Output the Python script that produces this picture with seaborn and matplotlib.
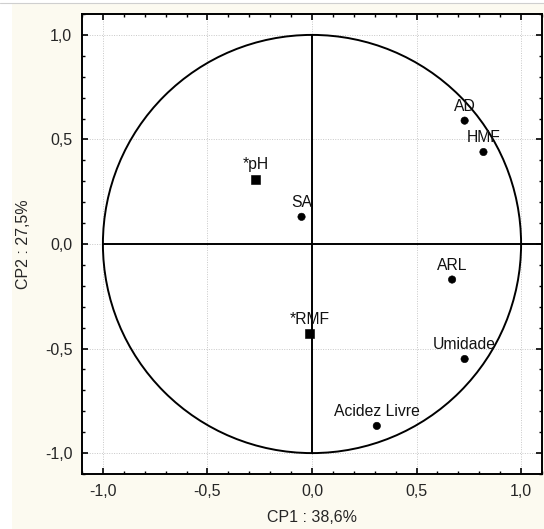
import numpy as np
import pandas as pd
import matplotlib
matplotlib.use("Agg")
import matplotlib.pyplot as plt
import seaborn as sns
from matplotlib.patches import Circle, Rectangle
from matplotlib.ticker import MultipleLocator

variables = ["*pH", "SA", "AD", "HMF", "ARL", "*RMF", "Umidade", "Acidez Livre"]
cp1 = [-0.27, -0.05, 0.73, 0.82, 0.67, -0.01, 0.73, 0.31]
cp2 = [0.31, 0.13, 0.59, 0.44, -0.17, -0.43, -0.55, -0.87]
tipo = ["quadrado", "circulo", "circulo", "circulo", "circulo", "quadrado", "circulo", "circulo"]
tick_vals = [-1.0, -0.5, 0.0, 0.5, 1.0]
tick_labels = ["-1,0", "-0,5", "0,0", "0,5", "1,0"]
xlabel = "CP1 : 38,6%"
ylabel = "CP2 : 27,5%"

df = pd.DataFrame({"var": variables, "CP1": cp1, "CP2": cp2, "tipo": tipo})

sns.set_theme(style="white")
plt.rcParams["font.family"] = ["Liberation Sans", "DejaVu Sans"]

bg = "#fcfaf0"
fig = plt.figure(figsize=(5.44, 5.29), dpi=100, facecolor=bg)
# white margins at top/left like the reference
fig.patches.append(Rectangle((0, 1 - 3 / 529), 1, 3 / 529, transform=fig.transFigure,
                             facecolor="white", edgecolor="none", zorder=-1))
fig.patches.append(Rectangle((0, 0), 12 / 544, 1, transform=fig.transFigure,
                             facecolor="white", edgecolor="none", zorder=-1))
fig.add_artist(plt.Line2D([0, 1], [1 - 3 / 529, 1 - 3 / 529], transform=fig.transFigure,
                          color="#cfcfcf", lw=0.8))

ax = fig.add_axes([82 / 544, 55 / 529, 460 / 544, 460 / 529])
ax.set_facecolor("white")

ax.set_xlim(-1.1, 1.1)
ax.set_ylim(-1.1, 1.1)

# grid
for v in tick_vals:
    ax.axvline(v, color="#c8c8c8", lw=0.7, ls=(0, (1, 1.5)), zorder=0)
    ax.axhline(v, color="#c8c8c8", lw=0.7, ls=(0, (1, 1.5)), zorder=0)

# unit circle and axes lines
ax.add_patch(Circle((0, 0), 1.0, fill=False, edgecolor="black", lw=1.4, zorder=2))
ax.plot([0, 0], [-1, 1], color="black", lw=1.4, zorder=2)
ax.plot([-1, 1.1], [0, 0], color="black", lw=1.4, zorder=2)

sns.scatterplot(data=df, x="CP1", y="CP2", style="tipo",
                markers={"circulo": "o", "quadrado": "s"},
                color="black", edgecolor="black", legend=False, ax=ax, zorder=3,
                size="tipo", sizes={"circulo": 28, "quadrado": 42})

for name, x, y in zip(variables, cp1, cp2):
    ax.annotate(name, (x, y), xytext=(0, 5), textcoords="offset points",
                ha="center", va="bottom", fontsize=11.3, color="#111111", zorder=4)

ax.set_xticks(tick_vals, tick_labels)
ax.set_yticks(tick_vals, tick_labels)
ax.xaxis.set_minor_locator(MultipleLocator(0.1))
ax.yaxis.set_minor_locator(MultipleLocator(0.1))
ax.tick_params(which="both", direction="in", top=True, right=True, bottom=True, left=True,
               color="black")
ax.tick_params(which="major", length=4, width=1.2, labelsize=11.5, pad=7)
ax.tick_params(which="minor", length=2.5, width=1.0)

for s in ax.spines.values():
    s.set_color("black")
    s.set_linewidth(1.4)

ax.set_xlabel(xlabel, fontsize=11.5, labelpad=8)
ax.set_ylabel(ylabel, fontsize=11.5, labelpad=10)

fig.savefig("out.png", dpi=100, facecolor=bg)
